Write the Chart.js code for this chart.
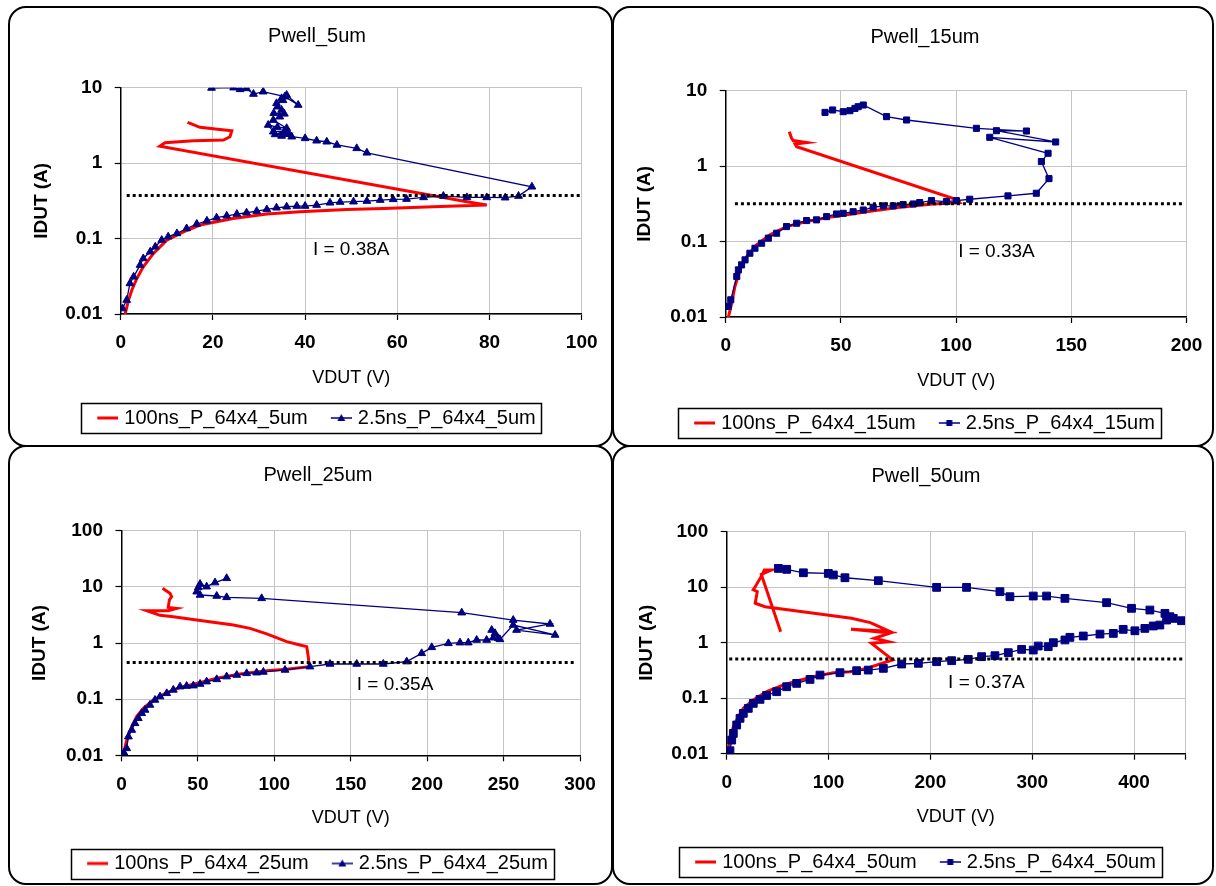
<!DOCTYPE html>
<html><head><meta charset="utf-8">
<script src="https://cdn.jsdelivr.net/npm/chart.js@4.4.1/dist/chart.umd.min.js"></script>
<style>
html,body{margin:0;padding:0;background:#fff;}
body{width:1216px;height:886px;position:relative;overflow:hidden;}
.frame{position:absolute;border:2px solid #000;border-radius:18px;box-sizing:border-box;pointer-events:none;}
</style></head><body>
<script>
// ---------- DATA ----------
const titles = ['Pwell_5um', 'Pwell_15um', 'Pwell_25um', 'Pwell_50um'];
const names5  = ['100ns_P_64x4_5um',  '2.5ns_P_64x4_5um'];
const names15 = ['100ns_P_64x4_15um', '2.5ns_P_64x4_15um'];
const names25 = ['100ns_P_64x4_25um', '2.5ns_P_64x4_25um'];
const names50 = ['100ns_P_64x4_50um', '2.5ns_P_64x4_50um'];

const xTicks5  = [0, 20, 40, 60, 80, 100];
const xTicks15 = [0, 50, 100, 150, 200];
const xTicks25 = [0, 50, 100, 150, 200, 250, 300];
const xTicks50 = [0, 100, 200, 300, 400, 450];
const yTicksA  = [0.01, 0.1, 1, 10];
const yTicksB  = [0.01, 0.1, 1, 10, 100];

// Pwell_5um
const v5_100 = [0.9,1.2,1.7,2.4,3.5,4.9,7.1,10.0,13.6,17.2,24.4,31.7,38.9,49.0,57.0,67.8,79.4,75.1,8.5,9.6,15.8,22.3,23.7,24.1,21.5,17.2,14.5];
const i5_100 = [0.0095,0.0115,0.0153,0.0207,0.0296,0.0423,0.0635,0.0955,0.123,0.151,0.185,0.211,0.226,0.243,0.251,0.264,0.278,0.308,1.68,1.86,1.98,2.02,2.24,2.69,2.80,2.98,3.47];
const v5_25 = [0.4,1.3,2.0,2.8,4.2,4.9,6.4,7.5,8.9,10.3,12.2,14.3,16.5,18.7,20.8,23.0,25.2,27.3,29.5,31.7,33.8,36.0,38.2,40.0,42.5,45.4,47.6,50.5,53.4,56.3,59.1,62.0,65.7,70.0,75.1,79.4,83.4,86.3,89.2,
  53.4,51.2,46.9,44.7,42.5,40.0,37.1,34.9,36.5,33.5,35.5,33.1,32.0,34.0,36.0,33.1,34.5,33.2,35.5,34.9,34.0,33.8,35.2,34.9,36.0,38.5,35.6,30.9,28.8,27.3,25.9,24.5,19.7];
const i5_25 = [0.0118,0.0153,0.0254,0.0311,0.0445,0.0545,0.0668,0.0778,0.0955,0.106,0.117,0.136,0.156,0.172,0.189,0.200,0.211,0.220,0.231,0.243,0.256,0.264,0.270,0.270,0.278,0.298,0.305,0.308,0.314,0.324,0.331,0.334,0.351,0.366,0.351,0.351,0.348,0.366,0.486,
  1.37,1.57,1.74,1.92,1.98,2.13,2.24,2.29,2.45,2.40,2.65,2.61,3.20,3.00,2.90,3.72,4.12,4.60,4.50,5.06,5.60,6.20,6.80,7.22,8.00,5.89,7.60,8.85,8.24,9.79,9.50,10.0,9.9];

// Pwell_15um
const v15_100 = [1.1,2.6,4.0,6.2,9.1,13.4,19.2,26.4,35.1,46.7,61.1,75.6,90.0,101.6,100.8,30.8,30.1,35.1,29.3,28.6,27.6];
const i15_100 = [0.0098,0.0152,0.0254,0.0421,0.0633,0.0904,0.1226,0.158,0.184,0.214,0.249,0.285,0.315,0.329,0.356,1.81,1.97,2.05,2.18,2.34,2.86];
const v15_25 = [1.1,2.2,4.8,5.5,6.9,8.4,10.5,12.7,15.6,18.5,22.1,26.4,30.8,35.1,39.4,43.8,48.1,51.0,55.3,59.7,64.0,68.4,72.7,77.0,81.4,84.2,89.3,95.8,100.1,105.9,122.5,134.8,140.3,137.0,139.9,114.6,143.2,117.5,130.5,108.8,78.5,69.8,59.7,57.5,56.1,53.9,51.0,46.4,43.1];
const i15_25 = [0.0138,0.0169,0.0344,0.0421,0.0491,0.0572,0.070,0.0816,0.095,0.111,0.129,0.158,0.175,0.190,0.194,0.214,0.232,0.237,0.249,0.262,0.285,0.297,0.297,0.309,0.315,0.329,0.349,0.339,0.349,0.364,0.403,0.437,0.683,1.15,1.48,2.41,2.09,2.95,2.92,3.17,4.09,4.53,6.46,6.14,5.83,5.43,5.27,5.55,5.16];

// Pwell_25um
const v25_100 = [1.2,2.9,4.5,6.7,9.9,14.3,20.8,29.6,38.3,49.2,62.3,77.5,95.0,108.0,122.9,122.2,121.2,116.8,108.1,95.0,84.1,73.2,49.2,33.9,25.2,16.5,30.6,36.1,30.6,31.3,32.8,31.7,28.5,26.9];
const i25_100 = [0.0101,0.0164,0.0230,0.0324,0.0488,0.0687,0.0966,0.1305,0.1625,0.191,0.235,0.281,0.321,0.340,0.379,0.571,0.861,0.921,1.06,1.45,1.82,2.09,2.56,2.94,3.11,3.77,3.77,4.14,4.31,5.83,6.69,7.66,8.79,9.4];
const v25_25 = [1.6,3.4,4.5,6.7,8.8,11.0,13.2,15.4,18.6,21.9,25.2,29.6,33.9,38.3,42.6,47.0,51.4,55.7,62.3,68.8,75.4,81.9,88.4,92.8,107.0,123.3,136.4,153.9,171.3,186.6,196.4,203.0,213.9,221.5,226.9,232.4,238.9,243.3,246.6,242.2,244.4,247.6,256.3,283.7,258.5,280.4,256.3,222.6,91.7,68.8,62.3,51.4,49.2,50.3,51.4,55.7,61.2,68.8];
const i25_25 = [0.0111,0.0133,0.0215,0.0282,0.0371,0.0456,0.0560,0.0641,0.0787,0.0966,0.111,0.127,0.146,0.167,0.171,0.174,0.186,0.205,0.225,0.252,0.269,0.288,0.296,0.305,0.331,0.379,0.423,0.423,0.423,0.466,0.655,0.837,0.986,1.014,1.014,1.13,1.13,1.24,1.21,1.70,1.49,1.16,2.09,1.39,1.70,2.18,2.56,3.47,6.24,6.50,6.87,7.16,8.20,9.80,11.2,10.07,11.9,14.2];

// Pwell_50um
const v50_100 = [1.6,2.6,3.9,6.5,11.4,16.3,26.1,39.2,55.6,71.9,88.3,104.7,121.0,137.4,150.5,163.0,142.0,159.0,145.0,161.0,122.0,160.0,141.0,122.5,37.6,28.0,30.0,26.0,28.0,33.8,37.0,44.0,34.0,53.0];
const i50_100 = [0.0104,0.0153,0.0202,0.0306,0.0464,0.0656,0.0927,0.131,0.173,0.212,0.251,0.288,0.300,0.345,0.413,0.49,0.98,1.04,1.2,1.5,1.74,1.6,2.3,2.76,4.45,5.13,8.3,9.0,10.2,15.5,20.4,20.4,17.0,1.58];
const v50_25 = [3.2,4.9,6.5,9.8,13.1,16.3,21.2,26.1,32.7,39.2,49.1,58.9,68.7,81.8,91.6,111.2,127.6,139.0,153.8,171.8,188.2,206.1,220.9,237.2,250.3,263.4,276.5,289.6,301.0,305.9,315.7,320.7,332.1,337.0,350.1,366.5,379.6,389.3,400.8,410.6,418.8,425.3,431.9,438.5,446.6,435.2,430.3,415.5,397.5,373.0,332.1,314.1,301.0,278.1,268.3,235.5,206.1,148.9,116.1,104.7,99.8,75.3,58.9,50.7];
const i50_25 = [0.0113,0.0176,0.0232,0.0329,0.0434,0.0533,0.0656,0.0807,0.0953,0.112,0.131,0.161,0.185,0.218,0.261,0.288,0.313,0.321,0.345,0.413,0.425,0.455,0.474,0.501,0.560,0.583,0.661,0.759,0.738,0.871,0.847,1.00,1.12,1.25,1.32,1.43,1.47,1.74,1.64,1.81,2.00,2.08,2.56,2.74,2.49,2.94,3.38,3.88,4.16,5.26,6.29,6.93,6.93,6.74,8.30,9.93,9.93,13.1,14.8,16.6,17.7,18.2,21.0,21.8];

// reference (dotted) current levels and their V span, and the note text
const refI = [0.373, 0.316, 0.449, 0.51];
const refV = [[1.3, 100], [4, 199], [3.4, 297], [2.5, 448]];
const notes = ['I = 0.38A', 'I = 0.33A', 'I = 0.35A', 'I = 0.37A'];
const noteAt = [[50, 0.0706], [117.5, 0.0735], [179, 0.177], [255, 0.191]];

// ---------- LAYOUT (page px) ----------
const panels = [
  {box:[8,6,605,441],   L:120.7, R:581.7, T:87.7,  B:314,   titleY:36,    center:317, xTickY:343, xTitleY:378, legendY:418,   yTitleX:42,  xMax:100, yMax:10,  marker:'triangle', mr:4.5},
  {box:[612,6,602,441], L:725.7, R:1187,  T:90.7,  B:317,   titleY:37,    center:925, xTickY:346, xTitleY:381, legendY:423,   yTitleX:645, xMax:200, yMax:10,  marker:'rect', mr:4.3},
  {box:[8,445,605,440], L:121.5, R:580,   T:530.7, B:755.3, titleY:475.7, center:318, xTickY:785, xTitleY:818, legendY:863.5, yTitleX:40,  xMax:300, yMax:100, marker:'triangle', mr:4.5},
  {box:[612,445,602,440],L:726.7,R:1185,  T:531.7, B:753.7, titleY:476.7, center:926, xTickY:783, xTitleY:817, legendY:862,   yTitleX:647, xMax:450, yMax:100, marker:'rect', mr:5.5}
];
const series = [
  {names:names5,  xt:xTicks5,  yt:yTicksA, a:[v5_100,i5_100],   b:[v5_25,i5_25]},
  {names:names15, xt:xTicks15, yt:yTicksA, a:[v15_100,i15_100], b:[v15_25,i15_25]},
  {names:names25, xt:xTicks25, yt:yTicksB, a:[v25_100,i25_100], b:[v25_25,i25_25]},
  {names:names50, xt:xTicks50, yt:yTicksB, a:[v50_100,i50_100], b:[v50_25,i50_25]}
];

const FONT = '"Liberation Sans", Arial, Helvetica, sans-serif';
Chart.defaults.font.family = FONT;
Chart.defaults.color = '#000';

function zip(xs, ys) { return xs.map((x, i) => ({x: x, y: ys[i]})); }

// legend sample: 24px wide image centred on a 16px box; visible sample spans its right 21px
function legendImg(kind, marker) {
  const c = document.createElement('canvas');
  c.width = 24; c.height = 12;
  const g = c.getContext('2d');
  if (kind === 'red') {
    g.strokeStyle = '#ff0000'; g.lineWidth = 3;
    g.beginPath(); g.moveTo(3, 6); g.lineTo(24, 6); g.stroke();
  } else {
    g.strokeStyle = '#000080'; g.fillStyle = '#000080'; g.lineWidth = 1.5;
    g.beginPath(); g.moveTo(3, 6); g.lineTo(24, 6); g.stroke();
    g.beginPath();
    if (marker === 'triangle') { g.moveTo(13.5, 2); g.lineTo(17.5, 9); g.lineTo(9.5, 9); g.closePath(); }
    else { g.rect(10.5, 3, 6, 6); }
    g.fill();
  }
  return c;
}

const legendBox = {
  id: 'legendBox',
  afterDraw(chart) {
    const hb = chart.legend && chart.legend.legendHitBoxes;
    if (!hb || !hb.length) return;
    const ctx = chart.ctx;
    const left = hb[0].left - 17;
    const last = hb[hb.length - 1];
    const right = last.left + last.width + 6;
    const cy = hb[0].top + hb[0].height / 2;
    ctx.save();
    ctx.strokeStyle = '#000'; ctx.lineWidth = 1.5;
    ctx.strokeRect(Math.round(left) + 0.5, Math.round(cy - 15) + 0.5, Math.round(right - left), 30);
    ctx.restore();
  }
};
const noteText = {
  id: 'noteText',
  afterDatasetsDraw(chart, args, opts) {
    const {ctx, scales} = chart;
    ctx.save();
    ctx.font = '19px ' + FONT;
    ctx.fillStyle = '#000'; ctx.textAlign = 'center'; ctx.textBaseline = 'middle';
    ctx.fillText(opts.text, scales.x.getPixelForValue(opts.x), scales.y.getPixelForValue(opts.y));
    ctx.restore();
  }
};

panels.forEach((p, k) => {
  const s = series[k];
  const [cx, cy, cw, ch] = p.box;
  const cv = document.createElement('canvas');
  cv.width = cw; cv.height = ch;
  cv.style.cssText = `position:absolute;left:${cx}px;top:${cy}px;width:${cw}px;height:${ch}px;`;
  document.body.appendChild(cv);
  const fr = document.createElement('div');
  fr.className = 'frame';
  fr.style.cssText = `left:${cx}px;top:${cy}px;width:${cw}px;height:${ch}px;`;
  document.body.appendChild(fr);

  const P = 2 * p.center - cx - p.R;
  const padR = cx + cw - p.R;
  const padB = (cy + ch) - (p.legendY + 20);
  const tTop = (p.titleY - cy) - 12;
  const tBot = (p.T - cy) - tTop - 24;
  const LP = 24; // legend item padding
  const xH = (p.legendY + 20 - (30 + LP)) - p.B;
  const xTickPad = p.xTickY - p.B - 6 - 11.4;
  const xTitlePadB = (p.legendY + 20 - (30 + LP)) - 10.8 - p.xTitleY;
  const yW = p.L - cx - P;
  const yTitlePadT = p.yTitleX - (cx + P) - 11.4;
  const step = s.xt[1] - s.xt[0];

  new Chart(cv.getContext('2d'), {
    type: 'scatter',
    data: {
      datasets: [
        {label: s.names[0], data: zip(s.a[0], s.a[1]), showLine: true, borderColor: '#ff0000', backgroundColor: '#ff0000',
         borderWidth: 3, pointRadius: 0, tension: 0, order: 2, legendImage: legendImg('red')},
        {label: s.names[1], data: zip(s.b[0], s.b[1]), showLine: true, borderColor: '#000080', backgroundColor: '#000080',
         borderWidth: 1.3, pointStyle: p.marker, pointRadius: p.mr, pointBorderWidth: 1, tension: 0, order: 1,
         legendImage: legendImg('blue', p.marker)},
        {label: 'ref', data: [{x: refV[k][0], y: refI[k]}, {x: refV[k][1], y: refI[k]}], showLine: true,
         borderColor: '#000', borderWidth: 3, borderDash: [3, 3], pointRadius: 0, order: 0, isRef: true}
      ]
    },
    options: {
      responsive: false, animation: false, devicePixelRatio: 1,
      layout: {padding: {left: P, right: padR, top: 0, bottom: padB}},
      plugins: {
        title: {display: true, text: titles[k], color: '#000', font: {size: 20, weight: 'normal', lineHeight: 1.2},
                padding: {top: tTop, bottom: tBot}},
        legend: {
          display: true, position: 'bottom', align: 'center',
          labels: {
            usePointStyle: true, pointStyleWidth: 16, padding: LP, color: '#000',
            font: {size: 20, lineHeight: 1.2},
            filter: (it, data) => !data.datasets[it.datasetIndex].isRef,
            sort: (a, b) => a.datasetIndex - b.datasetIndex,
            generateLabels(chart) {
              const items = Chart.defaults.plugins.legend.labels.generateLabels(chart);
              items.forEach(it => { it.pointStyle = chart.data.datasets[it.datasetIndex].legendImage; });
              return items;
            }
          }
        },
        tooltip: {enabled: false},
        noteText: {text: notes[k], x: noteAt[k][0], y: noteAt[k][1]}
      },
      scales: {
        x: {
          type: 'linear', min: 0, max: p.xMax,
          afterBuildTicks: sc => { sc.ticks = s.xt.map(v => ({value: v})); },
          afterFit: sc => { sc.height = xH; },
          grid: {color: '#c4c4c4', lineWidth: 1, tickLength: 6, tickColor: '#000', tickWidth: 1.2},
          border: {color: '#000', width: 1.5},
          ticks: {autoSkip: false, maxRotation: 0, padding: xTickPad, color: '#000',
                  font: {size: 19, weight: 'bold', lineHeight: 1.2},
                  callback: v => (v % step === 0 ? String(v) : '')},
          title: {display: true, text: 'VDUT (V)', color: '#000', font: {size: 18, weight: 'normal', lineHeight: 1.2},
                  padding: {top: 0, bottom: xTitlePadB}}
        },
        y: {
          type: 'logarithmic', min: 0.01, max: p.yMax,
          afterBuildTicks: sc => { sc.ticks = s.yt.map(v => ({value: v})); },
          afterFit: sc => { sc.width = yW; },
          grid: {color: '#c4c4c4', lineWidth: 1, tickLength: 6, tickColor: '#000', tickWidth: 1.2},
          border: {color: '#000', width: 1.5},
          ticks: {padding: 12.5, color: '#000', font: {size: 19, weight: 'bold', lineHeight: 1.2},
                  callback: v => String(v)},
          title: {display: true, text: 'IDUT (A)', color: '#000', font: {size: 19, weight: 'bold', lineHeight: 1.2},
                  padding: {top: yTitlePadT, bottom: 0}}
        }
      }
    },
    plugins: [legendBox, noteText]
  });
});
</script>
</body></html>
